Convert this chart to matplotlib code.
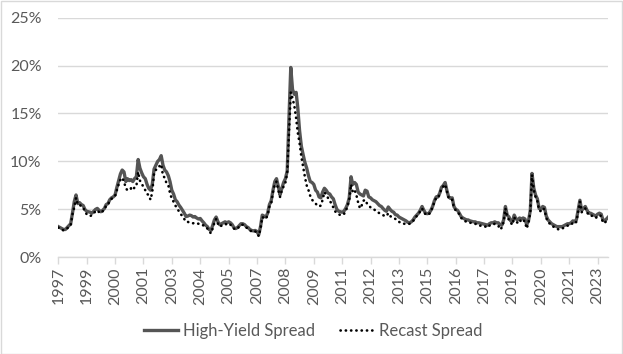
import matplotlib
matplotlib.use("Agg")
import matplotlib.pyplot as plt
import matplotlib.dates as mdates
from matplotlib.patches import Rectangle
import pandas as pd

# ---- data (monthly, Dec 1997 .. Oct 2023), values in percent ----
start_month = "1997-12-01"
hy_spread = [
    3.2,
    3.1, 3.0, 2.9, 2.9, 3.1, 3.3, 3.5, 4.6, 5.8, 6.5, 5.6, 5.7,
    5.5, 5.4, 5.0, 4.8, 4.75, 4.7, 4.6, 4.8, 5.0, 5.1, 4.9, 4.75,
    4.9, 5.1, 5.5, 5.6, 6.0, 6.2, 6.3, 6.5, 7.3, 8.0, 8.7, 9.1,
    8.9, 7.9, 8.2, 8.0, 8.1, 7.9, 8.2, 8.4, 10.2, 9.3, 8.8, 8.4,
    8.2, 7.6, 7.2, 7.0, 7.6, 9.2, 9.6, 10.0, 10.2, 10.6, 9.6, 9.1,
    8.9, 8.5, 7.9, 7.0, 6.6, 6.0, 5.8, 5.45, 5.2, 4.9, 4.6, 4.25,
    4.3, 4.4, 4.35, 4.2, 4.25, 4.1, 4.0, 4.05, 3.8, 3.6, 3.35, 3.2,
    2.9, 2.8, 3.3, 3.9, 4.2, 3.7, 3.4, 3.5, 3.6, 3.7, 3.6, 3.7,
    3.6, 3.4, 3.1, 3.0, 3.1, 3.3, 3.5, 3.5, 3.4, 3.2, 3.1, 2.9,
    2.8, 2.75, 2.8, 2.7, 2.35, 3.2, 4.4, 4.3, 4.2, 4.6, 5.5, 5.9,
    7.0, 7.9, 8.2, 7.4, 6.5, 7.2, 7.8, 8.2, 9.0, 14.5, 19.8, 17.5,
    17.0, 17.2, 15.6, 13.2, 11.6, 10.7, 9.9, 9.3, 8.5, 7.9, 7.8, 7.6,
    7.0, 6.8, 6.3, 6.2, 6.8, 7.2, 7.0, 6.7, 6.6, 6.3, 6.1, 5.5,
    5.0, 4.8, 4.75, 4.7, 4.8, 5.1, 5.5, 6.2, 8.4, 7.6, 7.8, 7.6,
    6.8, 6.6, 6.5, 6.4, 7.0, 6.9, 6.3, 6.2, 6.0, 5.9, 5.8, 5.6,
    5.4, 5.3, 5.1, 4.9, 4.8, 5.25, 5.0, 4.8, 4.7, 4.45, 4.4, 4.2,
    4.1, 4.0, 3.9, 3.8, 3.65, 3.6, 3.7, 3.9, 4.2, 4.4, 4.6, 4.9,
    5.3, 4.9, 4.6, 4.55, 4.6, 4.9, 5.3, 5.9, 6.3, 6.3, 6.7, 7.3,
    7.5, 7.8, 7.0, 6.3, 6.15, 6.2, 5.3, 5.0, 4.9, 4.6, 4.25, 4.1,
    4.0, 3.9, 3.9, 3.8, 3.75, 3.7, 3.7, 3.6, 3.6, 3.55, 3.5, 3.45,
    3.4, 3.35, 3.5, 3.6, 3.6, 3.7, 3.6, 3.6, 3.4, 3.35, 3.9, 5.3,
    4.4, 4.2, 3.8, 3.7, 4.4, 4.0, 3.9, 4.1, 4.0, 4.1, 4.0, 3.4,
    3.8, 4.9, 8.75, 7.2, 6.5, 6.1, 5.1, 5.0, 5.3, 5.2, 4.3, 3.9,
    3.7, 3.5, 3.4, 3.3, 3.2, 3.2, 3.2, 3.2, 3.3, 3.4, 3.5, 3.5,
    3.6, 3.8, 3.7, 3.9, 4.9, 5.95, 4.9, 5.1, 5.3, 4.9, 4.6, 4.6,
    4.5, 4.4, 4.3, 4.5, 4.6, 4.5, 3.9, 3.8, 4.0, 4.2,
]
recast_spread = [
    3.1,
    3.0, 2.9, 2.8, 2.9, 3.0, 3.2, 3.3, 4.5, 5.2, 6.2, 5.5, 5.5,
    5.3, 5.2, 4.8, 4.5, 4.4, 4.3, 4.4, 4.6, 4.8, 4.9, 4.7, 4.6,
    4.8, 5.0, 5.4, 5.5, 5.9, 6.1, 6.2, 6.4, 7.0, 7.6, 8.1, 8.3,
    7.9, 7.2, 7.0, 7.0, 7.2, 7.0, 7.3, 7.4, 8.9, 8.0, 7.7, 7.3,
    7.0, 6.6, 6.5, 6.0, 6.8, 8.8, 9.1, 9.4, 9.5, 9.7, 8.5, 8.3,
    7.7, 7.5, 6.7, 6.1, 5.8, 5.4, 5.1, 4.8, 4.5, 4.3, 4.0, 3.7,
    3.7, 3.6, 3.6, 3.55, 3.6, 3.55, 3.5, 3.5, 3.4, 3.3, 3.1, 3.0,
    2.7, 2.5, 3.0, 3.6, 4.0, 3.5, 3.2, 3.3, 3.4, 3.5, 3.4, 3.5,
    3.4, 3.2, 3.0, 2.9, 3.0, 3.2, 3.4, 3.4, 3.3, 3.1, 3.0, 2.8,
    2.7, 2.6, 2.7, 2.6, 2.2, 3.0, 4.2, 4.1, 4.0, 4.4, 5.3, 5.6,
    6.8, 7.6, 7.9, 7.0, 6.3, 7.0, 7.4, 7.8, 8.8, 13.0, 17.2, 16.6,
    15.8, 14.5, 13.0, 11.9, 10.5, 9.4, 8.4, 7.5, 7.0, 6.4, 6.0, 5.8,
    5.6, 5.4, 5.3, 5.4, 6.0, 6.8, 6.5, 6.2, 5.9, 5.6, 5.2, 4.8,
    4.6, 4.5, 4.4, 4.4, 4.5, 4.8, 5.3, 6.0, 7.6, 6.8, 7.0, 6.5,
    5.7, 5.1, 5.4, 5.9, 6.0, 5.6, 5.4, 5.2, 5.1, 5.0, 4.8, 4.7,
    4.6, 4.5, 4.4, 4.3, 4.3, 4.6, 4.3, 4.2, 4.1, 4.0, 3.9, 3.7,
    3.6, 3.5, 3.5, 3.5, 3.45, 3.5, 3.6, 3.8, 4.0, 4.3, 4.5, 4.8,
    5.1, 4.7, 4.5, 4.4, 4.5, 4.8, 5.2, 5.8, 6.2, 6.2, 6.6, 7.2,
    7.4, 7.6, 6.9, 6.2, 6.0, 6.0, 5.2, 4.9, 4.7, 4.5, 4.1, 4.0,
    3.8, 3.7, 3.7, 3.6, 3.6, 3.5, 3.5, 3.4, 3.3, 3.3, 3.2, 3.2,
    3.2, 3.1, 3.3, 3.4, 3.4, 3.5, 3.4, 3.3, 2.9, 3.1, 3.7, 5.1,
    4.2, 3.9, 3.6, 3.4, 4.2, 3.7, 3.6, 3.9, 3.7, 3.9, 3.7, 3.0,
    3.6, 4.7, 8.6, 7.0, 6.3, 5.9, 4.9, 4.8, 5.1, 5.0, 4.1, 3.7,
    3.5, 3.3, 3.2, 3.1, 3.0, 2.9, 3.0, 3.0, 3.1, 3.2, 3.3, 3.3,
    3.4, 3.6, 3.5, 3.7, 4.7, 5.8, 4.7, 4.9, 5.1, 4.7, 4.4, 4.4,
    4.3, 4.2, 4.1, 4.3, 4.4, 4.3, 3.6, 3.6, 3.8, 4.0,
]
tick_labels = ["1997", "1999", "2000", "2001", "2003", "2004", "2005",
               "2007", "2008", "2009", "2011", "2012", "2013", "2015",
               "2016", "2017", "2019", "2020", "2021", "2023"]
tick_step_months = 16
y_ticks = [0, 5, 10, 15, 20, 25]
series_names = ["High-Yield Spread", "Recast Spread"]

# ---- figure ----
plt.rcParams["font.family"] = ["Lato", "DejaVu Sans"]
TXT = "#595959"
GRID = "#D9D9D9"

dates = pd.date_range(start_month, periods=len(hy_spread), freq="MS")
tick_dates = pd.date_range(start_month, periods=len(tick_labels),
                           freq=f"{tick_step_months}MS")

fig = plt.figure(figsize=(6.23, 3.54), dpi=100)
fig.patches.append(Rectangle((0.5 / 623, 0.5 / 354), 1 - 1.5 / 623, 1 - 1.5 / 354,
                             transform=fig.transFigure, fill=False,
                             edgecolor=GRID, linewidth=1.0, zorder=0))
ax = fig.add_axes([58.3 / 623, 1 - 257.3 / 354, 550 / 623, (257.3 - 17.6) / 354])

ax.plot(dates, hy_spread, color="#555555", lw=2.4, solid_joinstyle="round",
        label=series_names[0], zorder=3)
ax.plot(dates, recast_spread, color="black", lw=1.9,
        linestyle=(0, (0.1, 1.9)), dash_capstyle="round",
        label=series_names[1], zorder=4)

ax.set_xlim(dates[0], dates[-1])
ax.set_ylim(0, 25)
ax.set_yticks(y_ticks)
ax.set_yticklabels([f"{v}%" for v in y_ticks])
ax.set_xticks(tick_dates)
ax.set_xticklabels(tick_labels, rotation=90)

ax.grid(axis="y", color=GRID, lw=1.0)
ax.set_axisbelow(True)
for s in ["top", "right", "left"]:
    ax.spines[s].set_visible(False)
ax.spines["bottom"].set_color(GRID)
ax.spines["bottom"].set_linewidth(1.0)
ax.tick_params(axis="y", length=0, pad=12, labelsize=11.5, labelcolor=TXT)
ax.tick_params(axis="x", length=5, width=1.0, color=GRID, pad=2,
               labelsize=11.5, labelcolor=TXT)

leg = fig.legend(loc="center", bbox_to_anchor=(0.503, 1 - 331 / 354), ncol=2,
                 frameon=False, fontsize=12, handlelength=2.05,
                 columnspacing=1.5, handletextpad=0.3)
for t in leg.get_texts():
    t.set_color(TXT)

fig.savefig("out.png", dpi=100)
